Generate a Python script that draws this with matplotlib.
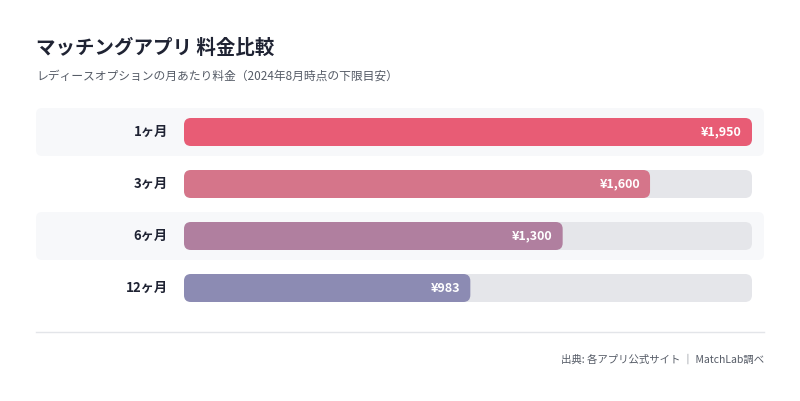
import matplotlib
matplotlib.use("Agg")
import matplotlib.pyplot as plt
from matplotlib.patches import FancyBboxPatch

plt.rcParams['font.family'] = ['Noto Sans CJK JP', 'DejaVu Sans']

# data
periods = ["1ヶ月", "3ヶ月", "6ヶ月", "12ヶ月"]
prices = [1950, 1600, 1300, 983]
colors = ["#e85c75", "#d5758a", "#b07f9f", "#8c8bb3"]

W, H = 800, 401
fig = plt.figure(figsize=(W / 100, H / 100), dpi=100)
ax = fig.add_axes([0, 0, 1, 1])
ax.set_xlim(0, W)
ax.set_ylim(H, 0)
ax.axis("off")

ax.text(36, 48, "マッチングアプリ 料金比較", fontsize=14, fontweight="bold",
        color="#1f2333", va="center")
ax.text(36, 76, "レディースオプションの月あたり料金（2024年8月時点の下限目安）",
        fontsize=8.5, color="#555b66", va="center")

x0, x1 = 184, 752
vmax = max(prices)
bar_h = 28
for i, (p, v, c) in enumerate(zip(periods, prices, colors)):
    yc = 132 + i * 52
    if i % 2 == 0:
        ax.add_patch(FancyBboxPatch((36, yc - 24), 728, 48,
                                    boxstyle="round,pad=0,rounding_size=6",
                                    fc="#f7f8fa", ec="none"))
    ax.add_patch(FancyBboxPatch((x0, yc - bar_h / 2), x1 - x0, bar_h,
                                boxstyle="round,pad=0,rounding_size=7",
                                fc="#e5e6ea", ec="none"))
    w = (x1 - x0) * v / vmax
    ax.add_patch(FancyBboxPatch((x0, yc - bar_h / 2), w, bar_h,
                                boxstyle="round,pad=0,rounding_size=7",
                                fc=c, ec="none"))
    ax.text(168, yc, p, ha="right", va="center", fontsize=9.5,
            fontweight="bold", color="#1f2333")
    ax.text(x0 + w - 10, yc, f"¥{v:,}", ha="right", va="center",
            fontsize=9, fontweight="bold", color="white")

ax.plot([36, 764], [332, 332], color="#e3e5e9", lw=1)
ax.text(764, 360, "出典: 各アプリ公式サイト ｜ MatchLab調べ", ha="right",
        va="center", fontsize=7.5, color="#555b66")

fig.savefig("out.png", dpi=100, facecolor="white")
